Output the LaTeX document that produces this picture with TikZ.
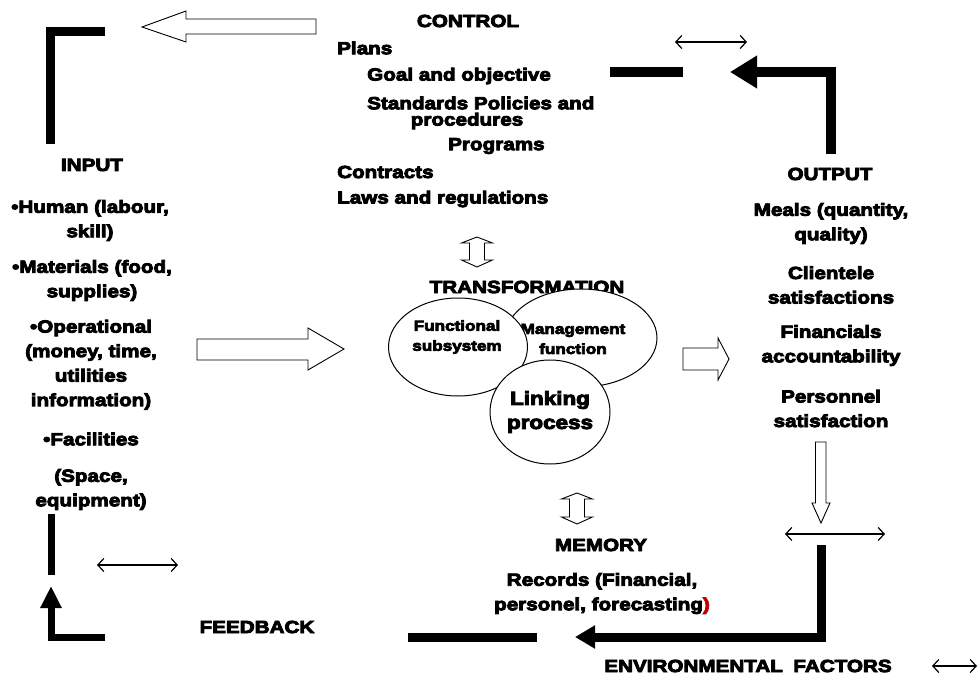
\documentclass[tikz,border=0pt]{standalone}
\usepackage{fontspec}
\setmainfont{Liberation Sans}[BoldFeatures={FakeStretch=1.18,FakeBold=5}]
\usetikzlibrary{arrows.meta,shapes.geometric}
\definecolor{parenred}{RGB}{192,0,0}

\begin{document}
\begin{tikzpicture}[x=1pt,y=-1pt,
  lbl/.style={font=\bfseries\fontsize{17.5}{24.5}\selectfont, inner sep=0pt, align=center},
  lblL/.style={lbl, anchor=west, align=left},
  small/.style={font=\bfseries\fontsize{14.5}{20}\selectfont, inner sep=0pt, align=center},
  big/.style={font=\bfseries\fontsize{19}{24}\selectfont, inner sep=0pt, align=center},
  bar/.style={line width=9.5pt, line join=miter},
  hollow/.style={draw=black, line width=0.9pt, fill=white, line join=miter},
  thin/.style={line width=1.2pt,
    {Straight Barb[length=6pt,width=13pt]}-{Straight Barb[length=6pt,width=13pt]}},
  bub/.style={ellipse, draw, line width=1pt, fill=white, inner sep=0pt},
]
\useasboundingbox (0,0) rectangle (978,677);

% ---------- CONTROL ----------
\node[lbl]  (control) at (468,21) {CONTROL};
\node[lblL] (plans)   at (337,48) {Plans};
\node[lblL] (goal)    at (367,76) {Goal and objective};
\node[lblL] (std)     at (367,103) {Standards Policies and};
\node[lbl]  (proc)    at (467,121) {procedures};
\node[lblL] (progs)   at (448,146) {Programs};
\node[lblL] (contr)   at (337,172) {Contracts};
\node[lblL] (laws)    at (337,199) {Laws and regulations};

% ---------- INPUT ----------
\node[lbl] (input) at (92,165) {INPUT};
\node[lbl] (human) at (90,220.5) {•Human (labour,\\skill)};
\node[lbl] (mat)   at (92,280.5) {•Materials (food,\\supplies)};
\node[lbl] (oper)  at (91,364.8) {•Operational\\(money, time,\\utilities\\information)};
\node[lbl] (fac)   at (91,439) {•Facilities};
\node[lbl] (space) at (91,489.5) {(Space,\\equipment)};

% ---------- OUTPUT ----------
\node[lbl] (output) at (830,174) {OUTPUT};
\node[lbl] (meals)  at (831,223.5) {Meals (quantity,\\quality)};
\node[lbl] (client) at (831,285) {Clientele\\satisfactions};
\node[lbl] (fin)    at (831,345.5) {Financials\\accountability};
\node[lbl] (pers)   at (831,408.5) {Personnel\\satisfaction};

% ---------- TRANSFORMATION ----------
\node[lbl] (trans) at (527,287) {TRANSFORMATION};
\node[bub, minimum width=152pt, minimum height=98pt] (mgmt) at (581,338) {};
\node[small] (mgmttxt) at (573,339) {Management\\function};
\node[bub, minimum width=139pt, minimum height=98pt] (func) at (458,347) {};
\node[small] (functxt) at (457,337) {Functional\\subsystem};
\node[bub, minimum width=120pt, minimum height=104pt] (link) at (550,412) {};
\node[big] (linktxt) at (550,412) {Linking\\process};

% ---------- MEMORY ----------
\node[lbl] (memory) at (601,545) {MEMORY};
\node[lbl] (records) at (602,593.5) {Records (Financial,\\personel, forecasting\textcolor{parenred}{)}};

\node[lbl] (feedback) at (257,627) {FEEDBACK};
\node[lbl] (env) at (748,666) {ENVIRONMENTAL\hspace{0.6em}FACTORS};

% ---------- hollow block arrows ----------
\draw[hollow] (316,19) -- (186,19) -- (186,11) -- (142,27) -- (186,42) -- (186,34) -- (316,34) -- cycle;
\draw[hollow] (197,339) -- (308,339) -- (308,328) -- (344,349) -- (308,370) -- (308,360) -- (197,360) -- cycle;
\draw[hollow] (683,348) -- (718,348) -- (718,338) -- (729,359) -- (718,380) -- (718,370) -- (683,370) -- cycle;
\draw[hollow] (815.5,442) -- (826,442) -- (826,503) -- (830,503) -- (821,523) -- (812,503) -- (815.5,503) -- cycle;
% two-headed vertical arrows
\draw[hollow] (477,237) -- (492.5,243) -- (484.5,243) -- (484.5,260) -- (492.5,260) -- (477,267)
  -- (461.5,260) -- (469.5,260) -- (469.5,243) -- (461.5,243) -- cycle;
\draw[hollow] (577,493) -- (592.5,499) -- (584.5,499) -- (584.5,517) -- (592.5,517) -- (577,524)
  -- (561.5,517) -- (569.5,517) -- (569.5,499) -- (561.5,499) -- cycle;

% ---------- thick loop connectors ----------
\coordinate (tlEnd)  at (105,31.5);
\coordinate (tlDown) at (50.5,144);
\draw[bar, line width=9pt] (tlEnd) -| (tlDown);

\coordinate (ctlBarA) at (610,72);
\coordinate (ctlBarB) at (683,72);
\draw[bar, line width=10pt] (ctlBarA) -- (ctlBarB);

\coordinate (outTop) at (831,154);
\coordinate (ctlTip) at (730,72);
\draw[bar, line width=10pt, -{Triangle[length=27pt,width=31pt]}] (outTop) |- (ctlTip);

\coordinate (envTop) at (821,545);
\coordinate (memTip) at (575,637);
\draw[bar, line width=9pt, -{Triangle[length=20pt,width=22pt]}] (envTop) |- (memTip);

\coordinate (fbBarA) at (408,637);
\coordinate (fbBarB) at (537,637);
\draw[bar, line width=9pt] (fbBarA) -- (fbBarB);

\coordinate (fbStart) at (105,637);
\coordinate (inTip)   at (51,586);
\draw[bar, line width=7pt, -{Triangle[length=22pt,width=20pt]}] (fbStart) -| (inTip);

\coordinate (inBarA) at (51,514);
\coordinate (inBarB) at (51,575);
\draw[bar, line width=7pt] (inBarA) -- (inBarB);

% ---------- thin two-way arrows ----------
\coordinate (twA1) at (675,42);  \coordinate (twA2) at (747,42);
\coordinate (twB1) at (785,534); \coordinate (twB2) at (885,534);
\coordinate (twC1) at (97,565);  \coordinate (twC2) at (178,565);
\coordinate (twD1) at (932,666); \coordinate (twD2) at (977,666);
\draw[thin] (twA1) -- (twA2);
\draw[thin] (twB1) -- (twB2);
\draw[thin] (twC1) -- (twC2);
\draw[thin] (twD1) -- (twD2);
\end{tikzpicture}
\end{document}
